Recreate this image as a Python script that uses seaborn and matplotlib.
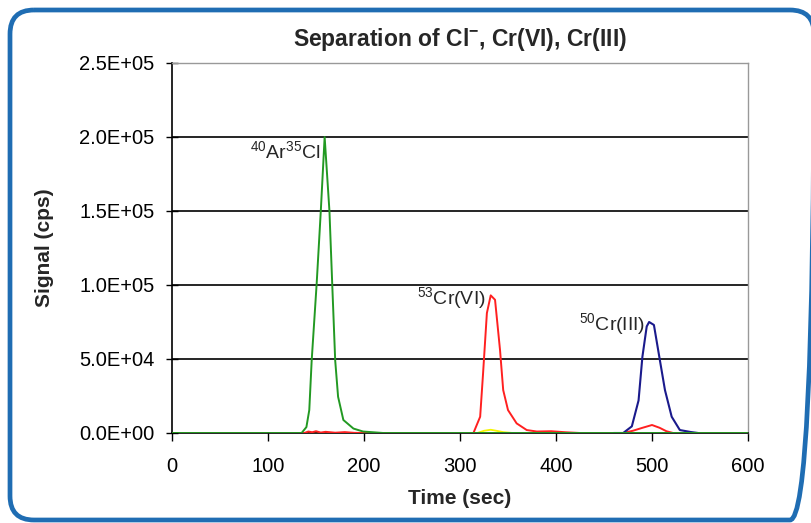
import numpy as np
import pandas as pd
import matplotlib
matplotlib.use("Agg")
import matplotlib.pyplot as plt
import seaborn as sns
from matplotlib.patches import FancyBboxPatch
from matplotlib.ticker import FuncFormatter

# ArCl (green)
t_arcl = [0, 100, 135, 140, 143, 145.5, 150.7, 155, 159, 164, 167, 170, 173, 178.5, 189, 199, 220, 600]
s_arcl = [0, 0, 0, 4000, 15500, 49000, 101000, 150000, 200000, 150000, 99000, 49000, 24500, 8800, 3000, 1000, 0, 0]

# Cr(VI) (red), incl. small bumps near the other peaks
t_cr6 = [0, 138, 142, 146, 150, 155, 160, 170, 180, 190, 200, 314, 321, 324, 328, 332, 336.5, 341.7, 345, 350,
         359, 369.5, 380, 395, 410, 425, 470, 480, 490, 500, 508, 515, 522, 600]
s_cr6 = [0, 0, 1000, 500, 1200, 300, 800, 200, 600, 100, 0, 0, 11000, 40000, 81000, 93000, 90000, 56000, 29000,
         15500, 6500, 2000, 1000, 1200, 500, 0, 0, 1500, 3500, 5400, 3500, 1200, 0, 0]

# yellow trace
t_yel = [0, 318, 325, 332, 338, 345, 355, 600]
s_yel = [0, 0, 1500, 2200, 1500, 600, 0, 0]

# Cr(III) (blue)
t_cr3 = [460, 470, 479, 486, 490, 494.5, 497, 502, 507.6, 513.5, 520.5, 529, 540, 548]
s_cr3 = [0, 0, 4500, 22000, 51500, 72000, 75000, 73000, 51500, 29000, 11000, 2000, 700, 0]

y_ticks = [0, 50000, 100000, 150000, 200000, 250000]
x_ticks = [0, 100, 200, 300, 400, 500, 600]

sns.set_style("white")
plt.rcParams["font.family"] = ["Liberation Sans", "DejaVu Sans"]
plt.rcParams["mathtext.fontset"] = "custom"
plt.rcParams["mathtext.rm"] = "Liberation Sans"
plt.rcParams["mathtext.bf"] = "Liberation Sans:bold"

fig = plt.figure(figsize=(8.12, 5.23), dpi=100)

# background axes in pixel units for the rounded blue frame
bg = fig.add_axes([0, 0, 1, 1])
bg.set_xlim(0, 812)
bg.set_ylim(523, 0)
bg.axis("off")
bg.add_patch(FancyBboxPatch((10, 10), 804, 510,
                            boxstyle="round,pad=0,rounding_size=24",
                            fill=False, edgecolor="#1f6db3", linewidth=3.4))

ax = fig.add_axes([172 / 812, 1 - 433 / 523, 576 / 812, 370 / 523])
ax.patch.set_alpha(0)

for y in y_ticks[1:-1]:
    ax.axhline(y, color="black", linewidth=1.2, zorder=1)

sns.lineplot(x=t_yel, y=s_yel, color="#f5f500", linewidth=1.3, ax=ax, zorder=2)
sns.lineplot(x=t_cr6, y=s_cr6, color="#ff2020", linewidth=1.4, ax=ax, zorder=3)
sns.lineplot(x=t_cr3, y=s_cr3, color="#1a1a8c", linewidth=1.5, ax=ax, zorder=3)
sns.lineplot(x=t_arcl, y=s_arcl, color="#229922", linewidth=1.4, ax=ax, zorder=4)

ax.set_xlim(0, 600)
ax.set_ylim(0, 250000)
ax.set_xticks(x_ticks)
ax.set_yticks(y_ticks)
ax.yaxis.set_major_formatter(FuncFormatter(lambda v, p: f"{v:.1E}"))
ax.tick_params(axis="both", labelsize=14.5, colors="black", width=1, left=True, bottom=True)
ax.tick_params(axis="x", direction="out", length=6, pad=11)
ax.tick_params(axis="y", direction="inout", length=9, pad=8)
for side in ["left", "bottom"]:
    ax.spines[side].set_color("black")
    ax.spines[side].set_linewidth(1.2)
for side in ["top", "right"]:
    ax.spines[side].set_color("#999999")
    ax.spines[side].set_linewidth(1.0)

ax.set_xlabel("Time (sec)", fontsize=15, fontweight="bold")
ax.set_ylabel("Signal (cps)", fontsize=15, fontweight="bold")
ax.xaxis.set_label_coords(0.5, -0.15)
ax.yaxis.set_label_coords(-0.205, 0.5)
ax.set_title(r"Separation of Cl$^{\mathbf{-}}$, Cr(VI), Cr(III)", fontsize=16.5, fontweight="bold", pad=12)

ax.text(155, 190000, r"$^{40}$Ar$^{35}$Cl", ha="right", va="center", fontsize=14)
ax.text(327, 91000, r"$^{53}$Cr(VI)", ha="right", va="center", fontsize=14)
ax.text(492, 73000, r"$^{50}$Cr(III)", ha="right", va="center", fontsize=14)

fig.savefig("out.png", dpi=100)
